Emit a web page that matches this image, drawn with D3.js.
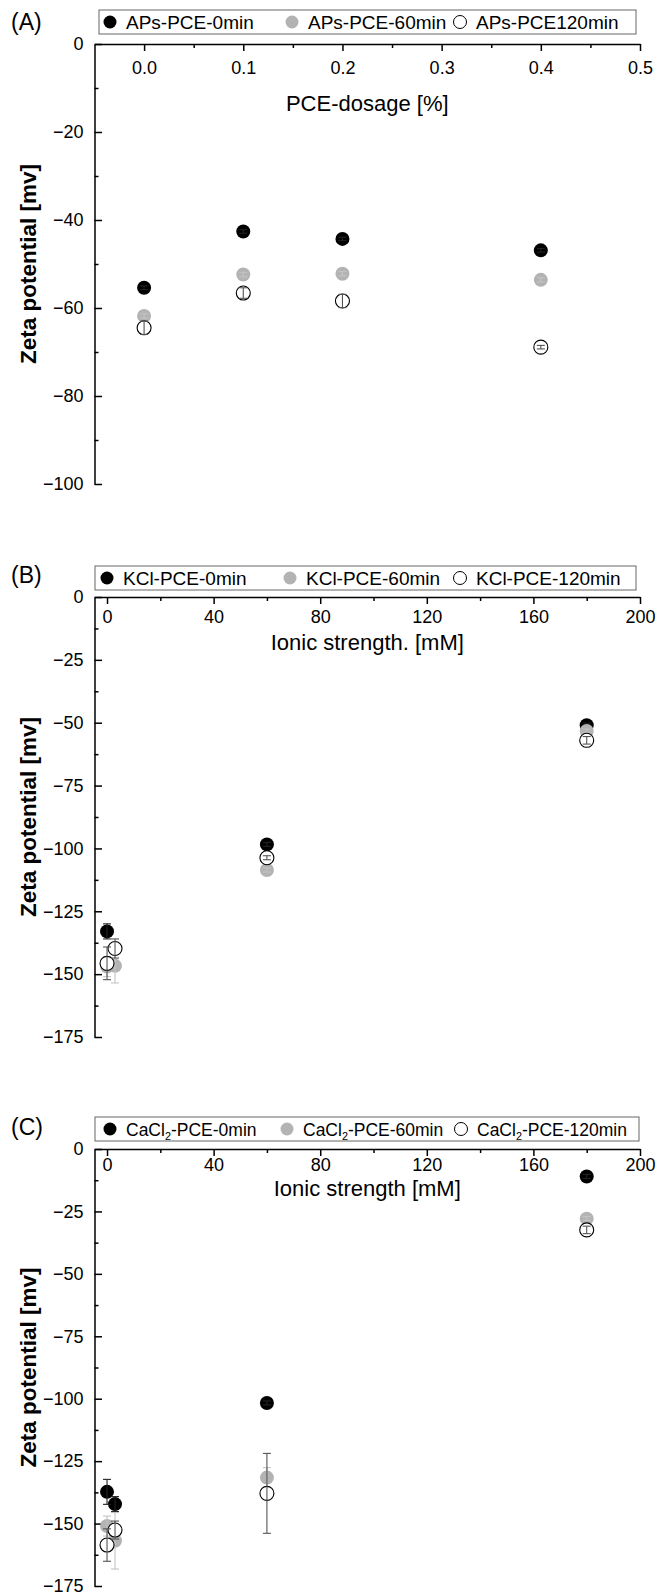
<!DOCTYPE html>
<html><head><meta charset="utf-8">
<script src="https://cdn.jsdelivr.net/npm/d3@7"></script>
<style>
body{margin:0;background:#fff}
svg{display:block}
text{font-family:"Liberation Sans",Arial,sans-serif;fill:#000}
</style>
</head><body>
<svg id="chart" width="657" height="1596"></svg>
<script>
// ---------- Panel A data ----------
const dosage = [0, 0.1, 0.2, 0.4];
const apsPCE0 = [-55.4, -42.6, -44.3, -46.9];
const apsPCE60 = [-61.8, -52.4, -52.2, -53.6];
const apsPCE120 = [-64.5, -56.6, -58.4, -68.9];
const apsErr0 = [0.4, 0.4, 0.4, 0.4];
const apsErr60 = [0.5, 0.5, 0.5, 0.5];
const apsErr120 = [1.5, 1.2, 1.5, 0.4];
const dosageTicks = [0, 0.1, 0.2, 0.3, 0.4, 0.5];
const dosageTickLabels = ["0.0", "0.1", "0.2", "0.3", "0.4", "0.5"];
const dosageMinor = [0.05, 0.15, 0.25, 0.35, 0.45];
const zetaTicksA = [0, -20, -40, -60, -80, -100];
const zetaTickLabelsA = ["0", "\u221220", "\u221240", "\u221260", "\u221280", "\u2212100"];
const zetaMinorA = [-10, -30, -50, -70, -90];

// ---------- Panel B data ----------
const ionicKCl = [0, 3, 60, 180];
const kcl0 = [-133.0, null, -98.4, -51.0];
const kcl60 = [-147.0, -146.7, -108.6, -53.3];
const kcl120 = [-145.7, -139.8, -103.7, -57.0];
const kclErr0 = [3, 0, 0.8, 0.8];
const kclErr60 = [4, 6.8, 0.8, 0.8];
const kclErr120 = [6.5, 3.8, 0.8, 1.5];

// ---------- Panel C data ----------
const ionicCa = [0, 3, 60, 180];
const ca0 = [-137.3, -142.2, -101.7, -11.0];
const ca60 = [-151.0, -156.9, -131.6, -27.9];
const ca120 = [-158.6, -152.6, -137.9, -32.4];
const caErr0 = [5, 3, 0.8, 0.8];
const caErr60 = [4, 11.3, 4, 0.8];
const caErr120 = [6.5, 3.6, 16, 1.5];

const ionicTicks = [0, 40, 80, 120, 160, 200];
const ionicTickLabels = ["0", "40", "80", "120", "160", "200"];
const ionicMinor = [20, 60, 100, 140, 180];
const zetaTicksBC = [0, -25, -50, -75, -100, -125, -150, -175];
const zetaTickLabelsBC = ["0", "\u221225", "\u221250", "\u221275", "\u2212100", "\u2212125", "\u2212150", "\u2212175"];
const zetaMinorBC = [-12.5, -37.5, -62.5, -87.5, -112.5, -137.5, -162.5];

const seriesStyle = [
  {fill: "#000000", stroke: "none", err: "#222222"},
  {fill: "#b3b3b3", stroke: "none", err: "#c4c4c4"},
  {fill: "#ffffff", stroke: "#000000", err: "#555555"}
];

const svg = d3.select("#chart");
const LEFT = 94.5, RIGHT = 640;

function panel(cfg) {
  const g = svg.append("g");
  const plotH = cfg.plotH;
  const x = d3.scaleLinear().domain(cfg.xDomain).range([LEFT, RIGHT]);
  const y = d3.scaleLinear().domain([cfg.yMin, 0]).range([cfg.top + plotH, cfg.top]);

  // panel label
  g.append("text").attr("x", 11).attr("y", cfg.top - 14).attr("font-size", 23).text(cfg.label);

  // legend
  const lg = g.append("g");
  const boxTop = cfg.top - cfg.legGap - 24;
  lg.append("rect").attr("x", cfg.legX0).attr("y", boxTop).attr("width", cfg.legX1 - cfg.legX0)
    .attr("height", 24).attr("fill", "#fff").attr("stroke", "#666").attr("stroke-width", 1);
  const legCx = cfg.legCx;
  cfg.names.forEach((nm, i) => {
    const st = seriesStyle[i];
    const cy = boxTop + 12;
    lg.append("circle").attr("cx", legCx[i]).attr("cy", cy).attr("r", 6.5)
      .attr("fill", st.fill).attr("stroke", st.stroke).attr("stroke-width", 1);
    const t = lg.append("text").attr("x", legCx[i] + 16).attr("y", cy + 6.5).attr("font-size", cfg.legFont);
    if (cfg.sub) {
      t.append("tspan").text(nm[0]);
      t.append("tspan").attr("font-size", cfg.legFont * 0.62).attr("dy", 4).text(nm[1]);
      t.append("tspan").attr("dy", -4).text(nm[2]);
    } else {
      t.text(nm);
    }
  });

  // x axis on top, ticks inward
  const xa = g.append("g").attr("transform", `translate(0,${cfg.top})`)
    .call(d3.axisBottom(x).tickValues(cfg.xTicks).tickFormat((d, i) => cfg.xTickLabels[i])
      .tickSizeInner(7).tickSizeOuter(0).tickPadding(cfg.xPad));
  xa.select(".domain").attr("stroke-width", 1.5);
  xa.selectAll(".tick line").attr("stroke-width", 1.5);
  xa.selectAll(".tick text").attr("font-size", 18).attr("font-family", "Liberation Sans, Arial, sans-serif");
  const xm = g.append("g").attr("transform", `translate(0,${cfg.top})`)
    .call(d3.axisBottom(x).tickValues(cfg.xMinor).tickFormat("").tickSizeInner(4).tickSizeOuter(0));
  xm.select(".domain").remove();
  xm.selectAll(".tick line").attr("stroke-width", 1.5);

  // y axis, ticks inward
  const ya = g.append("g").attr("transform", `translate(${LEFT},0)`)
    .call(d3.axisLeft(y).tickValues(cfg.yTicks).tickFormat((d, i) => cfg.yTickLabels[i])
      .tickSizeInner(-7.5).tickSizeOuter(0).tickPadding(11));
  ya.select(".domain").attr("stroke-width", 1.5);
  ya.selectAll(".tick line").attr("stroke-width", 1.5);
  ya.selectAll(".tick text").attr("font-size", 18).attr("font-family", "Liberation Sans, Arial, sans-serif");
  const ym = g.append("g").attr("transform", `translate(${LEFT},0)`)
    .call(d3.axisLeft(y).tickValues(cfg.yMinor).tickFormat("").tickSizeInner(-4).tickSizeOuter(0));
  ym.select(".domain").remove();
  ym.selectAll(".tick line").attr("stroke-width", 1.5);

  // axis titles
  g.append("text").attr("x", (LEFT + RIGHT) / 2).attr("y", cfg.top + cfg.xTitleOff)
    .attr("text-anchor", "middle").attr("font-size", 22).text(cfg.xTitle);
  g.append("text").attr("transform", `translate(36,${cfg.top + plotH / 2}) rotate(-90)`)
    .attr("text-anchor", "middle").attr("font-size", 22.5).attr("font-weight", "bold")
    .text("Zeta potential [mv]");

  // data
  cfg.series.forEach((vals, si) => {
    const st = seriesStyle[si];
    const pts = cfg.xVals.map((xv, i) => ({x: xv, y: vals[i], e: cfg.errs[si][i]})).filter(d => d.y !== null);
    const sg = g.append("g");
    sg.selectAll("circle").data(pts).join("circle")
      .attr("cx", d => x(d.x)).attr("cy", d => y(d.y)).attr("r", 7)
      .attr("fill", st.fill).attr("stroke", st.stroke).attr("stroke-width", 1.1);
    const eg = sg.selectAll("g.eb").data(pts.filter(d => d.e > 0)).join("g").attr("class", "eb")
      .attr("stroke", st.err).attr("stroke-width", 1.1);
    eg.append("line").attr("x1", d => x(d.x)).attr("x2", d => x(d.x))
      .attr("y1", d => y(d.y + d.e)).attr("y2", d => y(d.y - d.e));
    eg.append("line").attr("x1", d => x(d.x) - 4).attr("x2", d => x(d.x) + 4)
      .attr("y1", d => y(d.y + d.e)).attr("y2", d => y(d.y + d.e));
    eg.append("line").attr("x1", d => x(d.x) - 4).attr("x2", d => x(d.x) + 4)
      .attr("y1", d => y(d.y - d.e)).attr("y2", d => y(d.y - d.e));
  });
}

panel({
  label: "(A)", top: 44, plotH: 440, xDomain: [-0.05, 0.5], yMin: -100,
  xTicks: dosageTicks, xTickLabels: dosageTickLabels, xMinor: dosageMinor, xPad: 10,
  yTicks: zetaTicksA, yTickLabels: zetaTickLabelsA, yMinor: zetaMinorA,
  xTitle: "PCE-dosage [%]", xTitleOff: 67,
  legX0: 99, legX1: 636, legGap: 10, legFont: 19, legCx: [110, 292, 460],
  names: ["APs-PCE-0min", "APs-PCE-60min", "APs-PCE120min"],
  xVals: dosage, series: [apsPCE0, apsPCE60, apsPCE120], errs: [apsErr0, apsErr60, apsErr120]
});

panel({
  label: "(B)", top: 597, plotH: 440, xDomain: [-4.7, 200], yMin: -175,
  xTicks: ionicTicks, xTickLabels: ionicTickLabels, xMinor: ionicMinor, xPad: 6,
  yTicks: zetaTicksBC, yTickLabels: zetaTickLabelsBC, yMinor: zetaMinorBC,
  xTitle: "Ionic strength. [mM]", xTitleOff: 53,
  legX0: 95, legX1: 636, legGap: 7, legFont: 19, legCx: [107, 290, 460],
  names: ["KCl-PCE-0min", "KCl-PCE-60min", "KCl-PCE-120min"],
  xVals: ionicKCl, series: [kcl0, kcl60, kcl120], errs: [kclErr0, kclErr60, kclErr120]
});

panel({
  label: "(C)", top: 1149, plotH: 437, xDomain: [-4.7, 200], yMin: -175,
  xTicks: ionicTicks, xTickLabels: ionicTickLabels, xMinor: ionicMinor, xPad: 2,
  yTicks: zetaTicksBC, yTickLabels: zetaTickLabelsBC, yMinor: zetaMinorBC,
  xTitle: "Ionic strength [mM]", xTitleOff: 47,
  legX0: 95, legX1: 639, legGap: 8, legFont: 17.5, legCx: [110, 287, 461], sub: true,
  names: [["CaCl", "2", "-PCE-0min"], ["CaCl", "2", "-PCE-60min"], ["CaCl", "2", "-PCE-120min"]],
  xVals: ionicCa, series: [ca0, ca60, ca120], errs: [caErr0, caErr60, caErr120]
});
</script>
</body></html>
